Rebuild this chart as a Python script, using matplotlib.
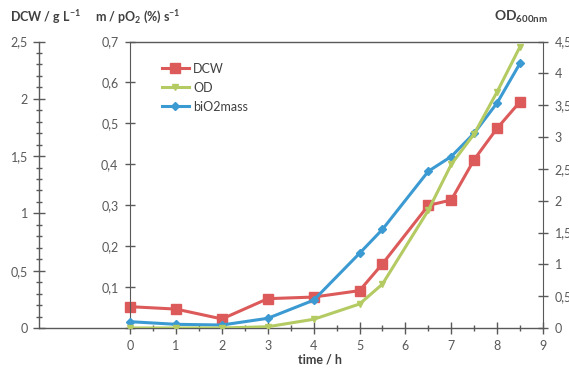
import numpy as np
import matplotlib
matplotlib.use("Agg")
import matplotlib.pyplot as plt
from matplotlib.ticker import MultipleLocator, FixedLocator

plt.rcParams['font.family'] = ['Lato', 'DejaVu Sans']
plt.rcParams['mathtext.fontset'] = 'custom'
plt.rcParams['mathtext.rm'] = 'Lato'
plt.rcParams['mathtext.it'] = 'Lato'
plt.rcParams['mathtext.bf'] = 'Lato:bold'

############## data

time_h = [0, 1, 2, 3, 4, 5, 5.5, 6.5, 7, 7.5, 8, 8.5]
dcw = [0.186, 0.165, 0.079, 0.256, 0.27, 0.326, 0.56, 1.07, 1.117, 1.47, 1.743, 1.975]
od = [0.0, 0.0, 0.0, 0.02, 0.137, 0.377, 0.69, 1.85, 2.57, 3.05, 3.71, 4.42]
bio2mass = [0.0154, 0.009, 0.0073, 0.0237, 0.068, 0.1825, 0.241, 0.383, 0.419, 0.476, 0.55, 0.647]

x_ticks = [0, 1, 2, 3, 4, 5, 6, 7, 8, 9]

grey = '#595959'
red = '#DC5A5A'
green = '#B4CA62'
blue = '#3C9AD2'

############## figure

fig = plt.figure(figsize=(5.69, 3.69), dpi=100)
W, H = 569, 369
left, right, top, bottom = 38.5, 543, 41.5, 328
ax = fig.add_axes([left / W, 1 - bottom / H, (right - left) / W, (bottom - top) / H])
ax.patch.set_alpha(0)

ax.set_xlim(-2, 9)
ax.set_ylim(0, 2.5)
ax.spines['top'].set_visible(False)
ax.spines['right'].set_visible(False)
for s in ['left', 'bottom']:
    ax.spines[s].set_color(grey)
    ax.spines[s].set_linewidth(1.0)
# top frame line only over the time range
ax.plot([0, 9], [2.5, 2.5], color=grey, lw=1.0, clip_on=False)

ax.xaxis.set_major_locator(FixedLocator(x_ticks))
ax.xaxis.set_minor_locator(FixedLocator(np.arange(0.5, 9, 1.0)))
ax.yaxis.set_major_locator(MultipleLocator(0.5))
ax.yaxis.set_minor_locator(MultipleLocator(0.1))
ax.tick_params(which='major', direction='inout', length=8, width=1, color=grey,
               labelcolor=grey, labelsize=9)
ax.tick_params(which='minor', direction='inout', length=4, width=1, color=grey)
ax.tick_params(axis='x', pad=5)
ax.yaxis.set_major_formatter(lambda v, p: ('%g' % v).replace('.', ','))

# m / pO2 axis sitting at time 0
ax2 = ax.twinx()
ax2.set_ylim(0, 0.7)
ax2.spines['left'].set_position(('data', 0))
ax2.spines['left'].set_visible(True)
ax2.spines['left'].set_color(grey)
for s in ['right', 'top', 'bottom']:
    ax2.spines[s].set_visible(False)
ax2.yaxis.set_ticks_position('left')
ax2.yaxis.set_major_locator(MultipleLocator(0.1))
ax2.tick_params(direction='inout', length=7, width=1, color=grey, labelcolor=grey,
                labelsize=9, pad=5)
ax2.yaxis.set_major_formatter(lambda v, p: '' if v == 0 else ('%g' % v).replace('.', ','))

# OD axis on the right
ax3 = ax.twinx()
ax3.set_ylim(0, 4.5)
for s in ['left', 'top', 'bottom']:
    ax3.spines[s].set_visible(False)
ax3.spines['right'].set_color(grey)
ax3.yaxis.set_major_locator(MultipleLocator(0.5))
ax3.tick_params(direction='inout', length=7, width=1, color=grey, labelcolor=grey,
                labelsize=9, pad=5)
ax3.yaxis.set_major_formatter(lambda v, p: ('%g' % v).replace('.', ','))

############## series

l1, = ax.plot(time_h, dcw, color=red, lw=2.2, marker='s', ms=6.5, label='DCW', zorder=5)
l2, = ax3.plot(time_h, od, color=green, lw=2.2, marker='v', ms=5, label='OD', zorder=4)
l3, = ax2.plot(time_h, bio2mass, color=blue, lw=2.2, marker='D', ms=4, label='biO2mass', zorder=4)

leg = ax3.legend(handles=[l1, l2, l3], loc='upper left', bbox_to_anchor=(0.222, 0.965),
                 frameon=False, fontsize=9, handlelength=2.2, labelspacing=0.55,
                 handletextpad=0.3)
for t in leg.get_texts():
    t.set_color('#404040')

############## axis titles

fig.text(10 / W, 1 - 17 / H, r'DCW / g L$^{\mathbf{-1}}$', fontsize=9, fontweight='bold',
         color='#404040', va='center')
fig.text(95 / W, 1 - 17 / H, r'm / pO$_{\mathbf{2}}$ (%) s$^{\mathbf{-1}}$', fontsize=9,
         fontweight='bold', color='#404040', va='center')
fig.text(494 / W, 1 - 17 / H, r'OD$_{\mathbf{600nm}}$', fontsize=10, fontweight='bold',
         color='#404040', va='center')
fig.text(320 / W, 1 - 360 / H, 'time / h', fontsize=9, fontweight='bold',
         color='#404040', ha='center', va='center')

fig.savefig('out.png', dpi=100)
